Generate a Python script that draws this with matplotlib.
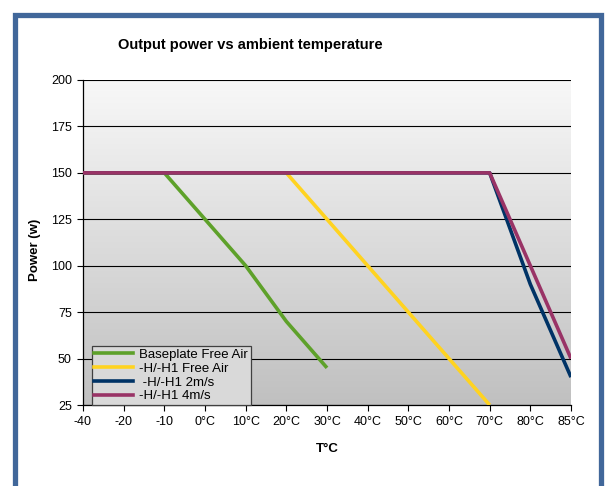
import matplotlib
matplotlib.use("Agg")
import matplotlib.pyplot as plt
import numpy as np
from matplotlib.patches import Rectangle
from matplotlib.lines import Line2D

plt.rcParams['font.family'] = ['Liberation Sans', 'DejaVu Sans']

categories = ["-40", "-20", "-10", "0°C", "10°C", "20°C", "30°C", "40°C",
              "50°C", "60°C", "70°C", "80°C", "85°C"]
nan = np.nan
baseplate_free_air = [150, 150, 150, 125, 100, 70, 45, nan, nan, nan, nan, nan, nan]
h_free_air = [150, 150, 150, 150, 150, 150, 125, 100, 75, 50, 25, nan, nan]
h_2ms = [150, 150, 150, 150, 150, 150, 150, 150, 150, 150, 150, 90, 40]
h_4ms = [150, 150, 150, 150, 150, 150, 150, 150, 150, 150, 150, 100, 50]
series_names = ["Baseplate Free Air", "-H/-H1 Free Air", " -H/-H1 2m/s", "-H/-H1 4m/s"]
series_values = [baseplate_free_air, h_free_air, h_2ms, h_4ms]
series_colors = ["#5ea12a", "#ffd320", "#003366", "#993366"]
y_ticks = [25, 50, 75, 100, 125, 150, 175, 200]

W, H = 605, 486
fig = plt.figure(figsize=(W / 100, H / 100), dpi=100)
fig.patch.set_facecolor("white")

# outer blue frame
fig.patches.append(Rectangle((14.5 / W, -0.2), (600.5 - 14.5) / W, 1.2 - 14.5 / H,
                             transform=fig.transFigure, fill=False,
                             edgecolor="#41679a", linewidth=3.8, zorder=0))

ax = fig.add_axes([83 / W, 1 - 405 / H, (571 - 83) / W, (405 - 80) / H])
x = np.arange(len(categories))

# gradient background (light at top, darker at bottom)
grad = np.linspace(0, 1, 256).reshape(-1, 1)
cmap = matplotlib.colors.LinearSegmentedColormap.from_list("g", ["#f8f8f8", "#c0c0c0"])
ax.imshow(grad, cmap=cmap, aspect="auto", extent=(0, len(categories) - 1, 25, 200),
          origin="upper", zorder=0)

for yv in y_ticks:
    ax.axhline(yv, color="black", linewidth=0.8, zorder=1)

handles = []
for name, vals, col in zip(series_names, series_values, series_colors):
    ax.plot(x, vals, color=col, linewidth=2.6, zorder=3, solid_capstyle="butt")
    handles.append(Line2D([], [], color=col, linewidth=2.6))

ax.set_xlim(0, len(categories) - 1)
ax.set_ylim(25, 200)
ax.set_xticks(x)
ax.set_xticklabels(categories, fontsize=9)
ax.set_yticks(y_ticks)
ax.set_yticklabels([str(v) for v in y_ticks], fontsize=9)
ax.tick_params(direction="out", length=4, width=0.8, colors="black", pad=4)

for s in ["top", "right"]:
    ax.spines[s].set_visible(False)
for s in ["left", "bottom"]:
    ax.spines[s].set_linewidth(0.9)
    ax.spines[s].set_color("black")

leg = ax.legend(handles, series_names, loc="lower left", bbox_to_anchor=(0.018, 0.0),
                borderaxespad=0, fontsize=9.5, frameon=True, fancybox=False,
                handlelength=2.9, handletextpad=0.5, labelspacing=0.12,
                borderpad=0.2)
leg.get_frame().set_facecolor("#d9d9d9")
leg.get_frame().set_edgecolor("#404040")
leg.get_frame().set_linewidth(0.9)
leg.get_frame().set_alpha(1)

fig.text(250 / W, 1 - 45 / H, "Output power vs ambient temperature",
         fontsize=10.5, fontweight="bold", ha="center", va="center")
fig.text(35 / W, 1 - 250 / H, "Power (w)", fontsize=9.5, fontweight="bold",
         rotation=90, ha="center", va="center")
fig.text(327 / W, 1 - 449 / H, "T°C", fontsize=9.5, fontweight="bold",
         ha="center", va="center")

fig.savefig("out.png", dpi=100)
